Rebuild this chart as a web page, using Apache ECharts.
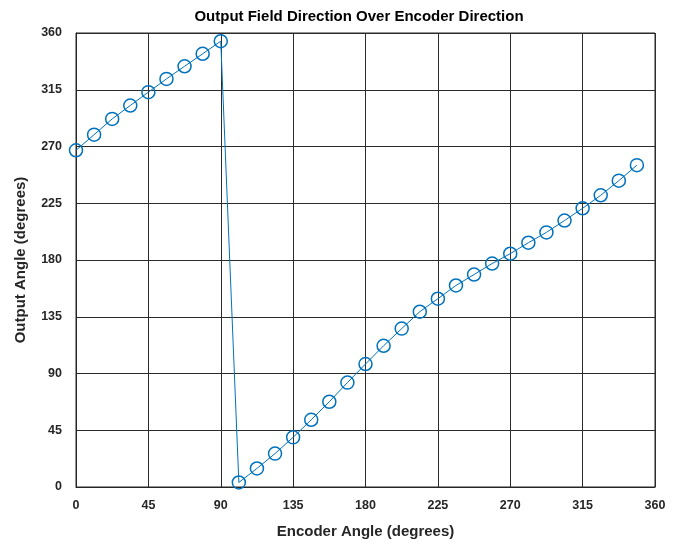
<!DOCTYPE html>
<html>
<head>
<meta charset="utf-8">
<script src="https://cdn.jsdelivr.net/npm/echarts@6/dist/echarts.min.js"></script>
<style>
  html, body { margin: 0; padding: 0; background: #fff; }
  #chart { width: 673px; height: 544px; }
</style>
</head>
<body>
<div id="chart"></div>
<script>
const encoderAngles = [
  0, 11.25, 22.5, 33.75, 45, 56.25, 67.5, 78.75, 90,
  101.25, 112.5, 123.75, 135, 146.25, 157.5, 168.75, 180,
  191.25, 202.5, 213.75, 225, 236.25, 247.5, 258.75, 270,
  281.25, 292.5, 303.75, 315, 326.25, 337.5, 348.75
];
const outputAngles = [
  267, 279.4, 291.9, 302.5, 313.1, 323.6, 333.6, 343.5, 353.5,
  3.6, 14.7, 26.5, 39.4, 53.3, 67.6, 82.8, 97.5,
  112, 125.6, 139, 149.3, 159.8, 168.5, 177.2, 185,
  193.7, 201.9, 211.3, 221, 231.3, 242.9, 255.2
];
const axisTicks = [0, 45, 90, 135, 180, 225, 270, 315, 360];

const font = "'Liberation Sans', Arial, sans-serif";
const ink = "#262626";

function angleAxis(name, extra) {
  return Object.assign({
    type: "value",
    name: name,
    nameLocation: "middle",
    nameTextStyle: { fontFamily: font, fontWeight: "bold", fontSize: 15, color: ink },
    min: axisTicks[0],
    max: axisTicks[axisTicks.length - 1],
    interval: 45,
    axisLine: { show: true, lineStyle: { color: ink, width: 1 } },
    axisTick: { show: true, inside: true, length: 4, lineStyle: { color: ink } },
    splitLine: { show: true, lineStyle: { color: "#2b2b2b", width: 1 } },
  }, extra);
}

const chart = echarts.init(document.getElementById("chart"));
chart.setOption({
  animation: false,
  title: {
    text: "Output Field Direction Over Encoder Direction",
    left: 354,
    textAlign: "center",
    top: 4,
    textStyle: { fontFamily: font, fontWeight: "bold", fontSize: 15, color: "#000" },
  },
  grid: { left: 76, right: 18, top: 33, bottom: 55, show: true, borderColor: ink, borderWidth: 1 },
  xAxis: angleAxis("Encoder Angle (degrees)", {
    nameGap: 37,
    axisLabel: { fontFamily: font, fontWeight: "bold", fontSize: 12.5, color: ink, margin: 12 },
  }),
  yAxis: angleAxis("Output Angle (degrees)", {
    nameGap: 48,
    axisLabel: { fontFamily: font, fontWeight: "bold", fontSize: 12.5, color: ink, margin: 14, padding: [0, 0, 3, 0] },
  }),
  series: [
    {
      type: "line",
      data: encoderAngles.map((x, i) => [x, outputAngles[i]]),
      symbol: "circle",
      symbolSize: 13,
      showAllSymbol: true,
      itemStyle: { color: "transparent", borderColor: "#0072BD", borderWidth: 1.5 },
      lineStyle: { color: "#0072BD", width: 1 },
    },
  ],
});
</script>
</body>
</html>
